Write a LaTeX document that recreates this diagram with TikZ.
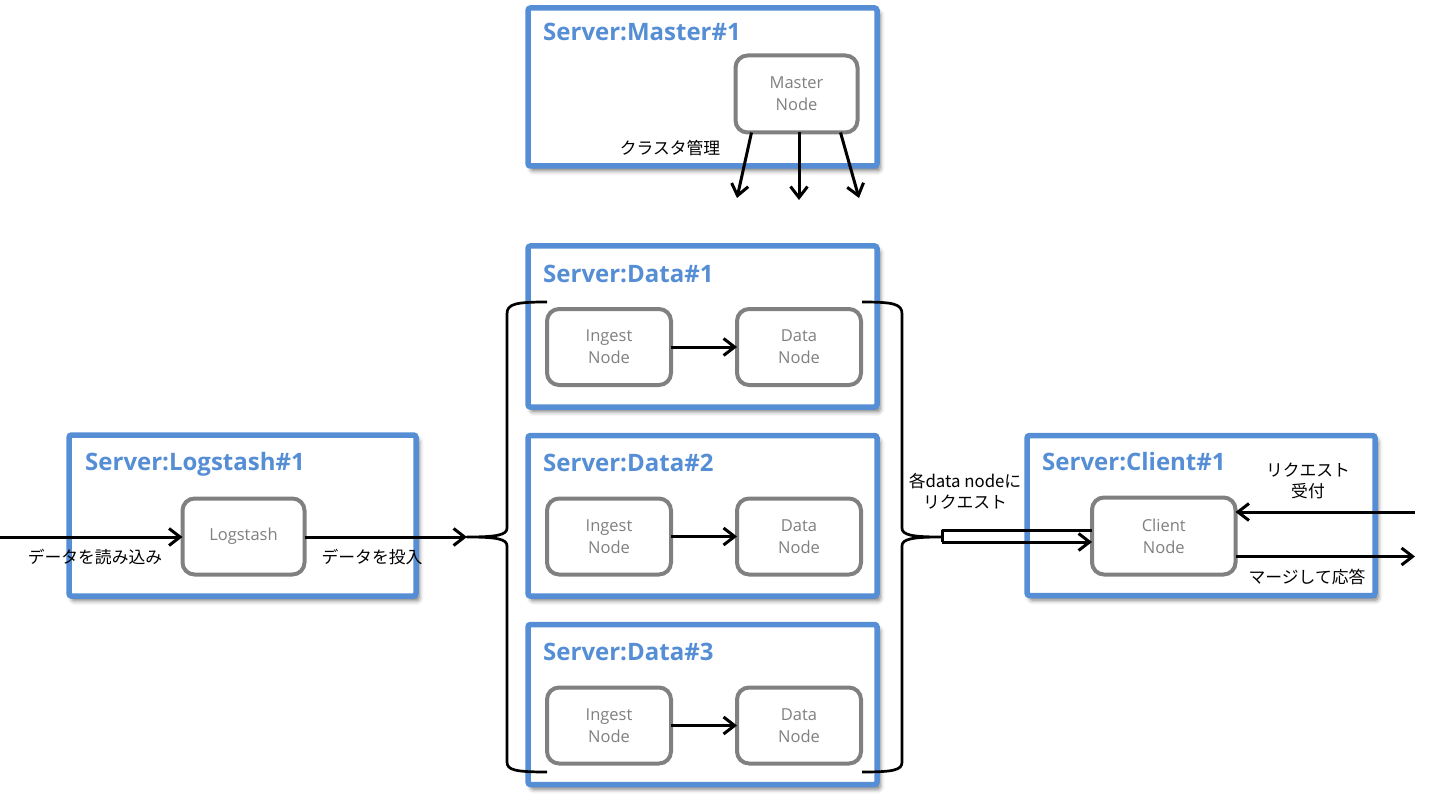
\documentclass[tikz,border=0pt]{standalone}
\usepackage{fontspec}
\setmainfont{Open Sans}
\newfontfamily\jpfont{Noto Sans CJK JP}
\usetikzlibrary{arrows.meta,shadows.blur}
\definecolor{srvblue}{RGB}{85,142,213}
\definecolor{nodegray}{RGB}{128,128,128}

\begin{document}
\begin{tikzpicture}[x=1pt,y=-1pt,
  server/.style={draw=srvblue, line width=5.5pt, fill=white, rounded corners=2.5pt,
    inner sep=0pt, outer sep=0pt,
    blur shadow={shadow xshift=3pt, shadow yshift=-4.5pt, shadow blur radius=4.5pt, shadow opacity=55}},
  srvtitle/.style={font=\bfseries\fontsize{24}{28}\selectfont, text=srvblue, anchor=base west, inner sep=0pt},
  unit/.style={draw=nodegray, line width=4pt, rounded corners=12pt, fill=white, text=nodegray,
    font=\fontsize{16.5}{22}\selectfont, align=center, inner sep=0pt, outer sep=0pt},
  wire/.style={line width=3pt, black, line join=round},
  flow/.style={wire, -{Straight Barb[length=11pt,width=17pt]}},
  brace/.style={line width=2.7pt, black, line join=round},
  note/.style={font=\jpfont\fontsize{16.8}{21}\selectfont, align=center, inner sep=0pt}
]
\useasboundingbox (0,0) rectangle (1431,802);

% server boxes
\node[server, minimum width=349pt, minimum height=158pt] (master) at (702.5,87) {};
\node[server, minimum width=349pt, minimum height=161pt] (data1) at (702.5,326.5) {};
\node[server, minimum width=349pt, minimum height=160.5pt] (data2) at (702.5,515.75) {};
\node[server, minimum width=349pt, minimum height=160pt] (data3) at (702.5,704.5) {};
\node[server, minimum width=347pt, minimum height=161pt] (logsrv) at (242.5,515.5) {};
\node[server, minimum width=348pt, minimum height=160pt] (clisrv) at (1201,515.5) {};

% server titles
\node[srvtitle] (tmaster) at (543,41) {Server:Master\#1};
\node[srvtitle] (tdata1) at (543,282) {Server:Data\#1};
\node[srvtitle] (tdata2) at (543,471) {Server:Data\#2};
\node[srvtitle] (tdata3) at (543,660) {Server:Data\#3};
\node[srvtitle] (tlog) at (85,470) {Server:Logstash\#1};
\node[srvtitle] (tcli) at (1042,470) {Server:Client\#1};

% processes
\node[unit, minimum width=122pt, minimum height=77pt] (mnode) at (796.5,94) {Master\\Node};
\node[unit, minimum width=124pt, minimum height=76pt] (ing1) at (609,347) {Ingest\\Node};
\node[unit, minimum width=124pt, minimum height=76pt] (dat1) at (799,347) {Data\\Node};
\node[unit, minimum width=124pt, minimum height=76pt] (ing2) at (609,536.5) {Ingest\\Node};
\node[unit, minimum width=124pt, minimum height=76pt] (dat2) at (799,536.5) {Data\\Node};
\node[unit, minimum width=124pt, minimum height=76pt] (ing3) at (609,725.5) {Ingest\\Node};
\node[unit, minimum width=124pt, minimum height=76pt] (dat3) at (799,725.5) {Data\\Node};
\node[unit, minimum width=122pt, minimum height=76pt] (lsnode) at (243.5,536.5) {Logstash};
\node[unit, minimum width=143.5pt, minimum height=77pt] (clnode) at (1163.75,536) {Client\\Node};

% ingest -> data inside each data server
\draw[flow] (ing1) -- (dat1);
\draw[flow] (ing2) -- (dat2);
\draw[flow] (ing3) -- (dat3);

% cluster management arrows
\coordinate (mgl) at (737,198);
\coordinate (mgc) at (799,200);
\coordinate (mgr) at (859,198);
\draw[flow] ([xshift=-45pt]mnode.south) -- (mgl);
\draw[flow] ([xshift=2.5pt]mnode.south) -- (mgc);
\draw[flow] ([xshift=44pt]mnode.south) -- (mgr);
\node[note] (lcluster) at (670,148) {クラスタ管理};

% logstash input / output
\coordinate (src) at (0,537);
\coordinate (ltip) at (467,537);
\draw[flow] (src) -- (lsnode.west |- src);
\draw[flow] (lsnode.east |- ltip) -- (ltip);
\node[note] (lread) at (95,557) {データを読み込み};
\node[note] (lfeed) at (372,557) {データを投入};

% braces around the data servers
\draw[brace] (547,302) .. controls (515,302) and (507,304) .. (507,314) -- (507,528)
  .. controls (507,535) and (497,537) .. (ltip)
  .. controls (497,537) and (507,539) .. (507,546) -- (507,762)
  .. controls (507,770) and (515,772) .. (547,772);
\coordinate (rtip) at (941,537);
\draw[brace] (862,302) .. controls (894,302) and (902,304) .. (902,314) -- (902,528)
  .. controls (902,535) and (912,537) .. (rtip)
  .. controls (912,537) and (902,539) .. (902,546) -- (902,762)
  .. controls (902,770) and (894,772) .. (862,772);

% request fan-out between client and data servers
\coordinate (rtop) at (942,530);
\coordinate (rbot) at (942,542);
\draw[wire] (clnode.west |- rtop) -- (rtop) -- (rbot);
\draw[flow] (rbot) -- (clnode.west |- rbot);
\node[note] (lreq) at (965,491) {各data nodeに\\リクエスト};

% client request / response
\coordinate (cin) at (1415,512);
\coordinate (cout) at (1415,556.5);
\draw[flow] (cin) -- (clnode.east |- cin);
\draw[flow] (clnode.east |- cout) -- (cout);
\node[note] (laccept) at (1308,481) {リクエスト\\受付};
\node[note] (lmerge) at (1307,577) {マージして応答};
\end{tikzpicture}
\end{document}
